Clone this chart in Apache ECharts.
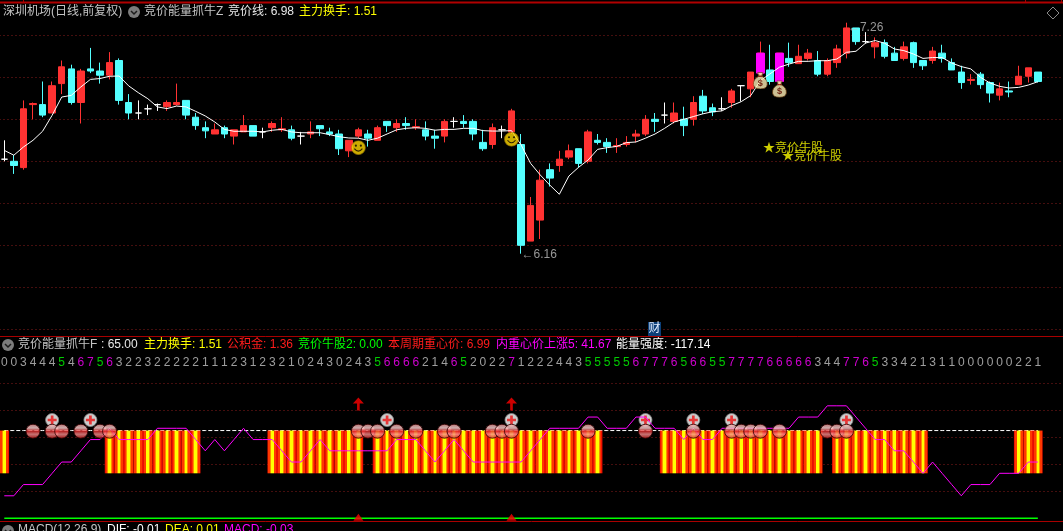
<!DOCTYPE html>
<html><head><meta charset="utf-8">
<style>html,body{margin:0;padding:0;background:#000}#c{width:1063px;height:531px}</style>
<script src="https://cdn.jsdelivr.net/npm/echarts@6/dist/echarts.min.js"></script>
</head><body><div id="c"></div>
<script>
const opens=[6.61,6.60,6.57,6.87,6.87,6.83,6.97,7.04,6.88,7.04,7.03,7.01,7.08,6.88,6.83,6.85,6.87,6.86,6.87,6.89,6.81,6.76,6.73,6.76,6.72,6.74,6.77,6.74,6.76,6.75,6.75,6.72,6.73,6.77,6.74,6.73,6.65,6.72,
6.73,6.70,6.79,6.76,6.78,6.76,6.75,6.72,6.72,6.79,6.79,6.79,6.69,6.68,6.75,6.74,6.68,6.22,6.32,6.56,6.58,6.62,6.66,6.60,6.70,6.69,6.67,6.68,6.72,6.73,6.80,6.82,6.79,6.80,6.80,6.91,
6.855,6.85,6.88,6.96,6.945,7.02,7.035,6.98,7.09,7.065,7.09,7.08,7.015,7.07,7.115,7.235,7.17,7.145,7.165,7.115,7.09,7.165,7.08,7.08,7.115,7.07,7.025,6.985,7.015,6.975,6.915,6.935,6.965,7.005,7.025];
const closes=[6.61,6.58,6.85,6.875,6.82,6.96,7.05,6.88,7.03,7.03,7.01,7.07,6.89,6.83,6.83,6.85,6.87,6.88,6.88,6.82,6.77,6.745,6.75,6.73,6.75,6.77,6.72,6.74,6.78,6.755,6.71,6.72,6.74,6.755,6.73,6.66,6.70,6.75,
6.71,6.76,6.77,6.78,6.77,6.765,6.72,6.71,6.79,6.79,6.78,6.73,6.66,6.76,6.75,6.84,6.20,6.39,6.51,6.52,6.61,6.65,6.59,6.74,6.69,6.67,6.675,6.69,6.73,6.80,6.79,6.82,6.83,6.77,6.88,6.84,
6.835,6.85,6.935,6.96,7.025,7.115,6.98,7.115,7.07,7.10,7.115,7.015,7.08,7.135,7.235,7.17,7.17,7.165,7.10,7.08,7.145,7.07,7.055,7.125,7.09,7.035,6.975,6.99,6.965,6.925,6.945,6.93,7.005,7.045,6.98];
const lows=[6.60,6.54,6.56,6.80,6.81,6.83,6.92,6.87,6.78,7.02,6.97,6.99,6.87,6.80,6.80,6.82,6.84,6.84,6.865,6.80,6.75,6.71,6.73,6.71,6.68,6.74,6.72,6.71,6.74,6.74,6.70,6.68,6.71,6.72,6.72,6.63,6.62,6.71,
6.67,6.70,6.74,6.74,6.75,6.75,6.70,6.66,6.69,6.76,6.76,6.70,6.65,6.66,6.71,6.73,6.16,6.22,6.23,6.48,6.55,6.61,6.57,6.59,6.68,6.64,6.64,6.67,6.69,6.72,6.74,6.78,6.78,6.72,6.77,6.825,
6.815,6.84,6.855,6.885,6.905,7.01,6.965,6.96,7.05,7.065,7.08,7.005,7.005,7.045,7.09,7.155,7.16,7.09,7.09,7.08,7.08,7.045,7.035,7.065,7.07,7.035,6.945,6.965,6.945,6.88,6.89,6.905,6.965,6.975,6.975];
const highs=[6.70,6.63,6.89,6.88,6.98,6.98,7.08,7.06,7.04,7.14,7.07,7.12,7.09,6.92,6.89,6.87,6.875,6.89,6.97,6.89,6.83,6.79,6.78,6.77,6.75,6.82,6.77,6.76,6.79,6.81,6.77,6.74,6.79,6.77,6.76,6.75,6.70,6.76,
6.75,6.77,6.79,6.80,6.81,6.80,6.79,6.75,6.80,6.81,6.82,6.80,6.75,6.78,6.77,6.85,6.73,6.43,6.56,6.59,6.65,6.68,6.66,6.75,6.73,6.71,6.71,6.72,6.75,6.82,6.83,6.88,6.88,6.86,6.91,6.94,
6.875,6.905,6.945,6.96,7.025,7.17,7.155,7.115,7.165,7.155,7.135,7.125,7.09,7.155,7.26,7.235,7.215,7.19,7.18,7.145,7.17,7.17,7.08,7.145,7.155,7.09,7.055,7.015,7.025,6.98,6.975,6.98,7.055,7.045,7.025];
const maLine=[6.652,6.629,6.668,6.70,6.743,6.819,6.906,6.914,6.954,6.99,6.994,7.005,7.006,6.959,6.927,6.898,6.859,6.851,6.863,6.859,6.838,6.816,6.787,6.752,6.743,6.743,6.743,6.74,6.748,6.752,6.74,6.736,6.736,6.736,6.727,6.717,6.711,6.71,
6.70,6.71,6.73,6.75,6.757,6.76,6.757,6.748,6.752,6.752,6.757,6.757,6.746,6.744,6.744,6.746,6.678,6.59,6.535,6.487,6.443,6.53,6.571,6.606,6.657,6.665,6.671,6.689,6.692,6.71,6.73,6.757,6.787,6.80,6.813,6.826,
6.836,6.84,6.865,6.884,6.913,6.984,7.016,7.048,7.063,7.076,7.076,7.079,7.079,7.087,7.119,7.124,7.163,7.175,7.162,7.135,7.127,7.111,7.09,7.094,7.094,7.068,7.051,7.04,7.0,6.973,6.957,6.949,6.952,6.963,6.979];
const magentaCandles=[79,81];
const digits=[0,0,3,4,4,4,5,4,6,7,5,6,3,2,2,3,2,2,2,2,2,1,1,1,2,3,1,2,3,2,1,0,2,4,3,0,2,4,
3,5,6,6,6,6,2,1,4,6,5,2,0,2,2,7,1,2,2,2,4,4,3,5,5,5,5,5,6,7,7,7,6,5,6,6,
5,5,7,7,7,7,6,6,6,6,6,3,4,4,7,7,6,5,3,3,4,2,1,3,1,1,0,0,0,0,0,0,2,2,1];
const innerLine=[16.67,16.67,25,25,25,33.33,41.67,41.67,50,58.33,58.33,66.67,58.33,58.33,58.33,58.33,66.67,66.67,66.67,66.67,58.33,50,58.33,50,58.33,66.67,58.33,58.33,58.33,50,41.67,41.67,50,58.33,50,50,50,50,
50,50,50,58.33,58.33,58.33,50,41.67,50,58.33,50,41.67,41.67,41.67,41.67,41.67,41.67,50,58.33,66.67,66.67,66.67,66.67,75,75,66.67,66.67,66.67,75,75,66.67,66.67,66.67,58.33,66.67,58.33,
58.33,66.67,66.67,66.67,66.67,66.67,66.67,66.67,66.67,75,75,75,83.33,83.33,83.33,75,66.67,58.33,58.33,50,50,41.67,33.33,41.67,33.33,25,16.67,25,25,25,33.33,33.33,33.33,41.67,41.67];
const stripeRanges=[[0,0],[11,20],[28,37],[39,62],[69,85],[87,96],[106,108]];
const stripeBottom=33.33, energyLevel=65;
const ballIdx=[3,5,6,8,10,11,37,38,39,41,43,46,47,51,52,53,61,67,72,76,77,78,79,81,86,87,88];
const plusIdx=[5,9,40,53,67,72,76,88];
const arrowIdx=[37,53];
const smileIdx=[37,53], smileVal=[6.665,6.705];
const bagIdx=[79,81], bagVal=[6.985,6.945];
const starIdx=[80,82], starVal=[6.659,6.621];

const BAND=9.57, EXTRA=3, FF='"Liberation Sans","Noto Sans CJK SC",sans-serif';
const cats=opens.map((_,i)=>String(i));
for(let k=0;k<EXTRA;k++)cats.push('');
const GRIDW=BAND*cats.length;
const RED='#ff3232',CYAN='#54ffff',MAG='#ff00ff',WHITE='#ffffff',DOT='#8a1c1c';

function styled(c){return {color:c,color0:c,borderColor:c,borderColor0:c,borderColorDoji:c};}
const candleData=opens.map((o,i)=>{
  const c=closes[i];
  const col=c>o?RED:(c<o?CYAN:WHITE);
  return {value:[o,c,lows[i],highs[i]],itemStyle:styled(col)};
});
const magentaBodies=opens.map((o,i)=>magentaCandles.includes(i)?[o,closes[i],o,closes[i]]:'-');
const inStripe=i=>stripeRanges.some(r=>i>=r[0]&&i<=r[1]);
const stripeBase=opens.map((_,i)=>inStripe(i)?stripeBottom:'-');
const stripeSpan=opens.map((_,i)=>inStripe(i)?energyLevel-stripeBottom:'-');
const stripeFill={type:'linear',x:0,y:0,x2:1,y2:0,colorStops:[
 {offset:0,color:'#f01000'},{offset:.1,color:'#f01000'},{offset:.1,color:'#ff3800'},{offset:.27,color:'#ff3800'},
 {offset:.27,color:'#ff8c00'},{offset:.36,color:'#ff8c00'},{offset:.36,color:'#ffff00'},{offset:.64,color:'#ffff00'},
 {offset:.64,color:'#ff8c00'},{offset:.73,color:'#ff8c00'},{offset:.73,color:'#ff3800'},{offset:.9,color:'#ff3800'},
 {offset:.9,color:'#f01000'},{offset:1,color:'#f01000'}]};
const ballFill={type:'linear',x:0,y:0,x2:0,y2:1,colorStops:[
 {offset:0,color:'#e88a8a'},{offset:.28,color:'#ffd8d8'},{offset:.5,color:'#e02828'},{offset:.7,color:'#f89090'},{offset:1,color:'#c81c1c'}]};
const svg=s=>'image://data:image/svg+xml;charset=utf-8,'+encodeURIComponent(s);
const smile=svg('<svg xmlns="http://www.w3.org/2000/svg" width="30" height="30" viewBox="0 0 30 30"><circle cx="15" cy="15" r="14" fill="#ffd800" stroke="#a88400" stroke-width="1.5"/><circle cx="10" cy="11" r="2.2" fill="#3a2a00"/><circle cx="20" cy="11" r="2.2" fill="#3a2a00"/><path d="M7 17 Q15 27 23 17" fill="none" stroke="#3a2a00" stroke-width="2.4"/></svg>');
const bag=svg('<svg xmlns="http://www.w3.org/2000/svg" width="30" height="34" viewBox="0 0 30 34"><path d="M10 2 H20 L18 9 Q29 15 28 25 Q27 33 15 33 Q3 33 2 25 Q1 15 12 9 Z" fill="#fff0b8" stroke="#7a4a18" stroke-width="1.6"/><path d="M11 9 H19" stroke="#b0301c" stroke-width="2.5"/><text x="15" y="27" font-size="17" font-weight="bold" text-anchor="middle" fill="#8a2a14" font-family="Liberation Sans">$</text></svg>');
const upArrow='path://M5 0 L10 6 L6.2 6 L6.2 13 L3.8 13 L3.8 6 L0 6 Z';
const plusMark='path://M3.5 0 H6.5 V3.5 H10 V6.5 H6.5 V10 H3.5 V6.5 H0 V3.5 H3.5 Z';

const txt=(x,y,text,fill)=>({type:'text',x,y,silent:true,z:20,style:{text,fill,font:'12px '+FF,verticalAlign:'middle'}});
const GREY='#c4c4c4';
const chevron=(cx,cy)=>[
 {type:'circle',silent:true,z:20,shape:{cx,cy,r:6},style:{fill:'#7c7c7c'}},
 {type:'polyline',silent:true,z:21,shape:{points:[[cx-3,cy-1],[cx,cy+2],[cx+3,cy-1]]},style:{fill:'none',stroke:'#1c1c1c',lineWidth:1.5}}];
const rule=(y,x1,x2,c,w)=>({type:'line',silent:true,z:19,shape:{x1,y1:y,x2,y2:y},style:{stroke:c||'#a80000',lineWidth:w||1}});
const tick=x=>({type:'line',silent:true,z:19,shape:{x1:x,y1:0,x2:x,y2:2},style:{stroke:'#a80000',lineWidth:1}});
const graphics=[
 rule(2.5,0,1063,'#b00000',2),tick(23.5),tick(1025.5),tick(1061.5),
 rule(336.5,0,1063),rule(521.5,0,1063),
 {type:'polygon',silent:true,z:19,shape:{points:[[1053,7],[1059,13],[1053,19],[1047,13]]},style:{fill:'none',stroke:'#8a8a8a',lineWidth:1}},
 txt(3,12,'深圳机场(日线,前复权)',GREY),...chevron(134,12),
 txt(144,12,'竞价能量抓牛Z',GREY),txt(228,12,'竞价线: 6.98','#e8e8e8'),txt(299,12,'主力换手: 1.51','#ffff00'),
 {type:'rect',silent:true,z:19,shape:{x:648,y:322,width:13,height:14},style:{fill:'#0c3f78'}},
 txt(648.5,329,'财','#e0ecff'),
 ...chevron(8,345),
 txt(18,345,'竞价能量抓牛F',GREY),txt(101,345,': 65.00','#e8e8e8'),txt(144,345,'主力换手: 1.51','#ffff00'),
 txt(227,345,'公积金: 1.36','#ff1c1c'),txt(298,345,'竞价牛股2: 0.00','#00ff00'),txt(388,345,'本周期重心价: 6.99','#ff1c1c'),
 txt(496,345,'内重心价上涨5: 41.67','#ff00ff'),txt(616,345,'能量强度: -117.14','#ffffff'),
 ...chevron(8,531),
 txt(18,530,'MACD(12,26,9)',GREY),txt(107,530,'DIF: -0.01','#ffffff'),txt(165,530,'DEA: 0.01','#ffff00'),txt(224,530,'MACD: -0.03','#ff00ff')
];
const splitStyle={show:true,lineStyle:{color:DOT,width:1,type:[1,3]}};
const hiddenAxisParts={axisLine:{show:false},axisTick:{show:false},axisLabel:{show:false}};
const xAx=g=>({type:'category',gridIndex:g,data:cats,show:false,boundaryGap:true});
const gridBase={outerBoundsMode:'none',containLabel:false,left:-0.5,width:GRIDW};
const option={
 animation:false,backgroundColor:'#000',
 grid:[{...gridBase,top:-6.7,height:336},{...gridBase,top:356,height:14},{...gridBase,top:383.3,height:135}],
 xAxis:[xAx(0),xAx(1),xAx(2)],
 yAxis:[
  {type:'value',gridIndex:0,min:5.8,max:7.4,interval:0.2,splitLine:splitStyle,...hiddenAxisParts},
  {type:'value',gridIndex:1,min:0,max:1,show:false},
  {type:'value',gridIndex:2,min:0,max:100,interval:20,splitLine:{...splitStyle,showMinLine:false},...hiddenAxisParts}],
 graphic:graphics,
 series:[
  {type:'candlestick',name:'K',xAxisIndex:0,yAxisIndex:0,barWidth:7,data:candleData,z:3},
  {type:'candlestick',name:'K2',xAxisIndex:0,yAxisIndex:0,barWidth:9,data:magentaBodies,itemStyle:styled(MAG),z:3.5},
  {type:'line',name:'竞价线',xAxisIndex:0,yAxisIndex:0,data:maLine,symbol:'none',lineStyle:{color:'#fff',width:1},z:4},
  {type:'scatter',name:'smile',xAxisIndex:0,yAxisIndex:0,symbol:smile,symbolSize:15,data:smileIdx.map((x,k)=>[x,smileVal[k]]),z:5},
  {type:'scatter',name:'bag',xAxisIndex:0,yAxisIndex:0,symbol:bag,symbolSize:[16,18],data:bagIdx.map((x,k)=>[x,bagVal[k]]),z:5},
  {type:'scatter',name:'star',xAxisIndex:0,yAxisIndex:0,symbolSize:1,itemStyle:{color:'transparent'},z:6,
   data:starIdx.map((x,k)=>[x,starVal[k]]),
   label:{show:true,position:'right',distance:0,offset:[-7.5,0],formatter:'★竞价牛股',color:'#ffff00',fontSize:12,fontFamily:FF}},
  {type:'scatter',name:'low',xAxisIndex:0,yAxisIndex:0,symbolSize:1,itemStyle:{color:'transparent'},z:6,data:[[54,6.16]],
   label:{show:true,position:'right',distance:0,offset:[0,1],formatter:'←6.16',color:'#bdbdbd',fontSize:12,fontFamily:FF}},
  {type:'scatter',name:'high',xAxisIndex:0,yAxisIndex:0,symbolSize:1,itemStyle:{color:'transparent'},z:6,data:[[88,7.26]],
   label:{show:true,position:'right',distance:0,offset:[1,5],formatter:'←7.26',color:'#bdbdbd',fontSize:12,fontFamily:FF}},
  {type:'scatter',name:'digits',xAxisIndex:1,yAxisIndex:1,symbolSize:1,itemStyle:{color:'transparent'},z:6,
   data:digits.map((d,i)=>({value:[i,0.5],label:{show:true,position:'inside',formatter:String(d),fontSize:12,fontFamily:FF,
     color:d>=6?'#ff00ff':(d===5?'#00ff00':GREY)}}))},
  {type:'line',name:'energy',xAxisIndex:2,yAxisIndex:2,data:opens.map(()=>energyLevel),symbol:'none',lineStyle:{color:'#fff',width:1,type:[4,2]},z:1},
  {type:'bar',name:'b0',stack:'s',xAxisIndex:2,yAxisIndex:2,barWidth:'100%',data:stripeBase,itemStyle:{color:'transparent'},z:2},
  {type:'bar',name:'b1',stack:'s',xAxisIndex:2,yAxisIndex:2,barWidth:'100%',data:stripeSpan,itemStyle:{color:stripeFill},z:2},
  {type:'scatter',name:'plusBg',xAxisIndex:2,yAxisIndex:2,symbol:'circle',symbolSize:13,data:plusIdx.map(x=>[x,72.8]),itemStyle:{color:'#fff',borderColor:'#888',borderWidth:1},z:2.5},
  {type:'scatter',name:'plus',xAxisIndex:2,yAxisIndex:2,symbol:plusMark,symbolSize:9,data:plusIdx.map(x=>[x,72.8]),itemStyle:{color:'#ee1111'},z:2.6},
  {type:'line',name:'内重心价',xAxisIndex:2,yAxisIndex:2,data:innerLine,symbol:'none',lineStyle:{color:'#ff00ff',width:1},z:3},
  {type:'scatter',name:'ball',xAxisIndex:2,yAxisIndex:2,symbol:'circle',symbolSize:14,data:ballIdx.map(x=>[x,64.5]),itemStyle:{color:ballFill,borderColor:'#300000',borderWidth:1},z:4},
  {type:'line',name:'zero',xAxisIndex:2,yAxisIndex:2,data:opens.map(()=>0),symbol:'none',lineStyle:{color:'#00ff00',width:1.5},z:3,clip:false},
  {type:'scatter',name:'up',xAxisIndex:2,yAxisIndex:2,symbol:upArrow,symbolSize:[11,13],data:arrowIdx.map(x=>[x,84.7]),itemStyle:{color:'#ff0000'},z:5,clip:false},
  {type:'scatter',name:'up0',xAxisIndex:2,yAxisIndex:2,symbol:'triangle',symbolSize:[10,7],data:arrowIdx.map(x=>[x,0.7]),itemStyle:{color:'#ff0000'},z:5,clip:false}
 ]
};
const chart=echarts.init(document.getElementById('c'),null,{renderer:'canvas',width:1063,height:531});
chart.setOption(option);
</script></body></html>
